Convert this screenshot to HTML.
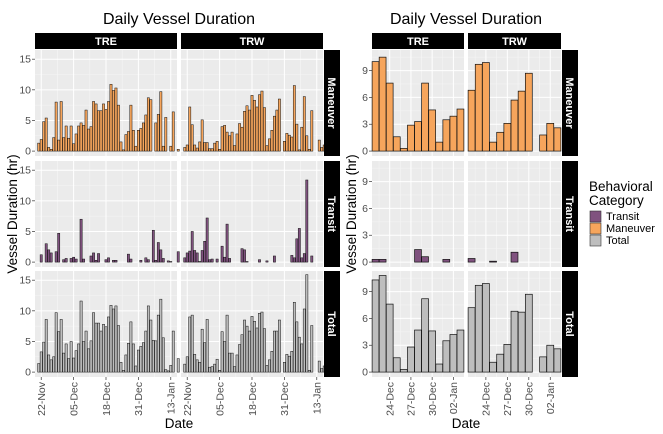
<!DOCTYPE html>
<html><head><meta charset="utf-8">
<style>
html,body{margin:0;padding:0;background:#fff;}
svg{display:block;font-family:"Liberation Sans",Arial,sans-serif;}
</style></head>
<body>
<svg id="chart" width="663" height="434" viewBox="0 0 663 434" xmlns="http://www.w3.org/2000/svg">
<text x="179" y="24" text-anchor="middle" font-size="16" fill="#000">Daily Vessel Duration</text>
<text x="466" y="24" text-anchor="middle" font-size="16" fill="#000">Daily Vessel Duration</text>
<text transform="translate(17,214) rotate(-90)" text-anchor="middle" font-size="13.5" fill="#000">Vessel Duration (hr)</text>
<text transform="translate(356,214) rotate(-90)" text-anchor="middle" font-size="13.5" fill="#000">Vessel Duration (hr)</text>
<text x="179" y="428" text-anchor="middle" font-size="13.5" fill="#000">Date</text>
<text x="466" y="428" text-anchor="middle" font-size="13.5" fill="#000">Date</text>
<g id="plots"></g>
<g>
<text x="589" y="191" font-size="13.5" fill="#000">Behavioral</text>
<text x="589" y="205" font-size="13.5" fill="#000">Category</text>
<rect x="590" y="211" width="11" height="11" fill="#80527f" stroke="#333" stroke-width="0.6"/>
<text x="606" y="220" font-size="11" fill="#000">Transit</text>
<rect x="590" y="223" width="11" height="11" fill="#f6a55c" stroke="#333" stroke-width="0.6"/>
<text x="606" y="232" font-size="11" fill="#000">Maneuver</text>
<rect x="590" y="235" width="11" height="11" fill="#bebebe" stroke="#333" stroke-width="0.6"/>
<text x="606" y="244" font-size="11" fill="#000">Total</text>
</g>
</svg>
<script>
// ---- Left chart data (day index 0 = 21-Nov) ----
const leftTickLabels = ["22-Nov","05-Dec","18-Dec","31-Dec","13-Jan"];
const leftTickDays = [1,14,27,40,53];
const leftYTicks = [0,5,10,15];
const treManeuver = [1.3,1.9,4.8,5.4,0.6,0.3,2.2,8.0,1.8,8.1,2.2,4.1,2.1,4.1,1.2,2.8,4.1,4.6,4.2,6.7,3.6,4.0,8.1,7.7,6.6,6.6,7.7,6.8,8.1,10.9,9.9,10.3,7.5,1.5,0.2,2.7,3.2,7.5,3.4,0.8,3.4,3.7,4.6,5.9,8.7,8.4,0,4.6,6.0,9.7,0.8,5.5,0,0.8,6.4,0,0.3];
const treTransit = [0,1.2,0,3.0,2.0,1.5,0,1.7,4.7,0,0.4,0.6,0,0.6,0.8,0.5,0,7.0,0.5,0,0,1.0,1.5,0.3,1.4,0,0,0.4,0.7,0,0.3,0.3,0,0,0,0,1.3,0.5,0,0,0,0.3,0,0.7,0.4,0,5.2,0.3,3.2,2.0,0.6,0,0.2,0.1,0,0,1.7];
const treTotal = [1.4,3.3,4.9,8.6,2.8,2.0,2.5,9.7,6.6,8.6,3.1,4.6,2.2,5.0,2.3,3.5,4.6,11.6,5.0,6.7,3.8,5.1,9.7,8.0,8.0,6.7,7.8,7.4,9.0,10.9,10.3,10.8,7.6,1.6,0.3,2.8,4.7,8.2,4.6,1.0,3.6,4.2,4.8,6.7,10.8,8.5,5.2,5.1,9.3,11.9,5.6,0.4,0.2,1.1,6.7,0,2.2];
const trwManeuver = [0.6,1.0,7.2,4.3,1.0,0.5,1.5,5.1,1.4,1.4,0.4,0.4,1.3,1.6,0.3,4.0,4.2,3.1,2.5,3.1,0.9,2.8,4.5,3.9,6.5,7.4,6.7,9.1,8.3,7.2,9.2,9.8,7.1,0.9,2.0,3.4,5.7,6.7,8.5,0,1.6,2.9,2.6,2.3,10.7,4.4,0.2,3.9,8.9,2.5,0.3,6.6,0,0,1.8,0.6,1.0];
const trwTransit = [0.7,1.5,1.8,5.0,1.9,1.5,0.1,1.9,3.4,7.2,0.4,0.5,0,0.5,0,2.6,0.8,6.2,0.6,0,0,0,0,2.2,2.0,0.1,0,0,0,0,0.4,0,0,0.2,0,0,1.0,0,0,0,0,0,0,1.1,0.7,3.8,5.5,0.7,1.4,13.4,0,1.0,0,0,0,0,0];
const trwTotal = [1.3,2.5,9.0,9.3,2.9,2.0,1.6,7.0,4.8,8.6,0.8,0.9,1.3,2.1,0.3,6.6,5.0,9.3,3.1,3.1,0.9,2.8,4.5,6.1,8.5,7.5,6.7,9.1,8.3,7.2,9.6,9.8,7.1,1.1,2.0,3.4,6.7,6.7,8.5,0,1.6,2.9,2.6,3.4,11.4,8.2,5.7,4.6,10.3,15.9,0.3,7.6,0,0,1.8,0.6,1.0];
// ---- Right chart data (index 0 = 22-Dec) ----
const rightTickLabels = ["24-Dec","27-Dec","30-Dec","02-Jan"];
const rightTickDays = [2,5,8,11];
const rightYTicks = [0,3,6,9];
const rTreManeuver = [10.0,10.5,7.6,1.6,0.3,2.9,3.3,7.6,4.6,1.0,3.5,3.9,4.7];
const rTreTransit = [0.3,0.3,0,0,0,0,1.4,0.6,0,0,0.3,0,0];
const rTreTotal = [10.3,10.8,7.6,1.6,0.3,2.8,4.7,8.2,4.6,0.9,3.5,4.2,4.7];
const rTrwManeuver = [6.8,9.7,9.9,1.0,2.1,3.1,5.7,6.7,8.7,0,1.8,3.1,2.6];
const rTrwTransit = [0.4,0,0,0.1,0,0,1.1,0,0,0,0,0,0];
const rTrwTotal = [7.2,9.7,9.9,1.1,2.0,3.1,6.8,6.7,8.7,0,1.7,3.0,2.6];

const NS = "http://www.w3.org/2000/svg";
const root = document.getElementById('plots');
function mk(tag, attrs, parent){ const e=document.createElementNS(NS,tag); for(const k in attrs) e.setAttribute(k,attrs[k]); (parent||root).appendChild(e); return e; }

const rows = [{top:50,name:"Maneuver",color:"#f6a55c"},{top:161,name:"Transit",color:"#80527f"},{top:271,name:"Total",color:"#bebebe"}];
const rowH = 106;

function buildChart(cfg){
  const g = mk('g',{});
  
  
  const yScale = (v,top)=> top + (cfg.ymax - v)/(cfg.ymax-cfg.ymin)*rowH;
  cfg.cols.forEach((col,ci)=>{
    const xScale = d => col.x0 + (d-cfg.dmin)/(cfg.dmax-cfg.dmin)*(col.x1-col.x0);
    const st = mk('rect',{x:col.x0,y:33,width:col.x1-col.x0,height:16,fill:"#000"},g);
    
    
    const stt = mk('text',{x:(col.x0+col.x1)/2,y:45,'text-anchor':'middle','font-size':11,'font-weight':'bold',fill:'#fff'},g);
    stt.textContent = col.name;
    
    
    rows.forEach((row,ri)=>{
      const pg = mk('g',{},g);
      
      
      mk('rect',{x:col.x0,y:row.top,width:col.x1-col.x0,height:rowH,fill:"#ebebeb"},pg);
      for(let i=0;i<cfg.yTicks.length;i++){
        const mv = cfg.yTicks[i] + (cfg.yTicks[1]-cfg.yTicks[0])/2;
        if(mv<cfg.ymax) mk('line',{x1:col.x0,x2:col.x1,y1:yScale(mv,row.top),y2:yScale(mv,row.top),stroke:"#f5f5f5","stroke-width":0.5},pg);
      }
      for(let i=0;i<cfg.tickDays.length;i++){
        const step = cfg.tickDays[1]-cfg.tickDays[0];
        [cfg.tickDays[i]-step/2, cfg.tickDays[i]+step/2].forEach(md=>{
          if(md>cfg.dmin && md<cfg.dmax) mk('line',{x1:xScale(md),x2:xScale(md),y1:row.top,y2:row.top+rowH,stroke:"#f5f5f5","stroke-width":0.5},pg);
        });
      }
      cfg.yTicks.forEach(t=>{
        mk('line',{x1:col.x0,x2:col.x1,y1:yScale(t,row.top),y2:yScale(t,row.top),stroke:"#fff","stroke-width":1},pg);
      });
      cfg.tickDays.forEach(d=>{
        mk('line',{x1:xScale(d),x2:xScale(d),y1:row.top,y2:row.top+rowH,stroke:"#fff","stroke-width":1},pg);
      });
      const vals = cfg.data[ci][ri];
      const bw = cfg.barW*(col.x1-col.x0)/(cfg.dmax-cfg.dmin);
      vals.forEach((v,i)=>{
        const x = xScale(i) - bw/2;
        const y0 = yScale(0,row.top), y1 = yScale(v,row.top);
        const b = mk('rect',{x:x.toFixed(2),y:y1.toFixed(2),width:bw.toFixed(2),height:Math.max(0,y0-y1).toFixed(2),fill:row.color,stroke:"#111","stroke-width":cfg.sw},pg);
        
        
      });
      if(ci===0){
        cfg.yTicks.forEach(t=>{
          const y=yScale(t,row.top);
          mk('line',{x1:col.x0-3,x2:col.x0,y1:y,y2:y,stroke:"#333","stroke-width":0.7},g);
          const tl = mk('text',{x:col.x0-4,y:y+3.5,'text-anchor':'end','font-size':10.5,fill:'#4d4d4d'},g);
          tl.textContent = t;
          
          
        });
      }
      if(ci===cfg.cols.length-1){
        const rs = mk('rect',{x:cfg.stripX,y:row.top,width:16,height:rowH,fill:"#000"},g);
        
        
        const rt = mk('text',{transform:`translate(${cfg.stripX+4},${row.top+rowH/2}) rotate(90)`,'text-anchor':'middle','font-size':11,'font-weight':'bold',fill:'#fff'},g);
        rt.textContent = row.name;
        
        
      }
    });
    const bottom = rows[2].top+rowH;
    cfg.tickDays.forEach((d,k)=>{
      const x = xScale(d);
      mk('line',{x1:x,x2:x,y1:bottom,y2:bottom+3,stroke:"#333","stroke-width":0.7},g);
      const xl = mk('text',{transform:`translate(${x+3.8},${bottom+5}) rotate(-90)`,'text-anchor':'end','font-size':10.5,fill:'#4d4d4d'},g);
      xl.textContent = cfg.tickLabels[k];
      
      
    });
  });
}

buildChart({id:'left', dmin:-1.5, dmax:55.5, ymin:-0.8, ymax:16.5, barW:0.9, sw:0.5,
  yTicks:leftYTicks, tickDays:leftTickDays, tickLabels:leftTickLabels, stripX:324,
  cols:[{name:"TRE",x0:35,x1:177},{name:"TRW",x0:181,x1:323}],
  data:[[treManeuver,treTransit,treTotal],[trwManeuver,trwTransit,trwTotal]]});
buildChart({id:'right', dmin:-0.5, dmax:12.5, ymin:-0.55, ymax:11.3, barW:0.97, sw:0.7,
  yTicks:rightYTicks, tickDays:rightTickDays, tickLabels:rightTickLabels, stripX:562,
  cols:[{name:"TRE",x0:372,x1:464},{name:"TRW",x0:468,x1:561}],
  data:[[rTreManeuver,rTreTransit,rTreTotal],[rTrwManeuver,rTrwTransit,rTrwTotal]]});
</script>
</body></html>
